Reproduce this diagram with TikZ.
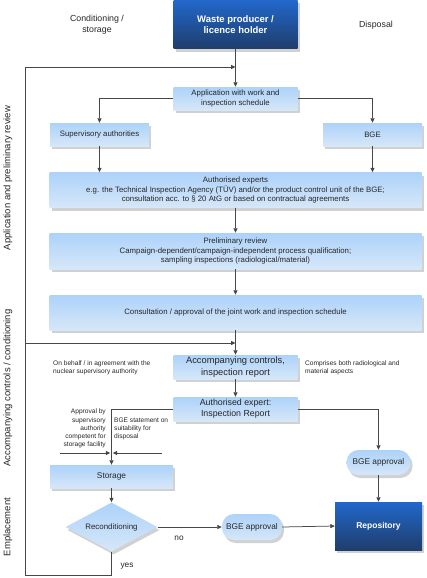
\documentclass[tikz,border=0pt]{standalone}
\usepackage{fontspec}
\setmainfont{Liberation Sans}
\usetikzlibrary{arrows.meta,shapes.geometric,shadows}
\definecolor{lnc}{HTML}{474747}
\definecolor{txt}{HTML}{262626}
\definecolor{lbtop}{HTML}{ADD2FA}
\definecolor{lbbot}{HTML}{D6E7F8}
\definecolor{dbtop}{HTML}{2268CB}
\definecolor{dbbot}{HTML}{1F3D6B}
\newdimen\fsdim
\newcommand{\fs}[1]{\fsdim=#1pt \fsdim=1.22\fsdim \fontsize{#1}{\the\fsdim}\selectfont}
\tikzset{
  shad/.style={drop shadow={shadow xshift=2pt,shadow yshift=-3pt,fill=black,opacity=0.18}},
  lbox/.style={shad,rectangle,inner sep=1pt,align=center,top color=lbtop,bottom color=lbbot,text=txt,font=\fs{7.8}},
  dbox/.style={shad,rectangle,inner sep=1pt,align=center,top color=dbtop,bottom color=dbbot,text=white,font=\bfseries\fs{9.5}},
  pill/.style={shad,rectangle,rounded corners=12pt,inner sep=1pt,align=center,top color=lbtop,bottom color=lbbot,text=txt,font=\fs{8.3}},
  conn/.style={draw=lnc,line width=0.75pt},
  arr/.style={conn,-{Triangle[length=4.5pt,width=4pt]}},
  note/.style={font=\fs{6.6},inner sep=0pt,align=left,text=txt},
  vlab/.style={rotate=90,font=\fs{9.5},inner sep=0pt,text=txt},
}
\begin{document}
\begin{tikzpicture}[x=1pt,y=-1pt]
\useasboundingbox (0,0) rectangle (426,578);
% header labels
\node[font=\fs{8.8},align=center,text=txt] (hcond) at (97,25) {Conditioning /\\storage};
\node[font=\fs{8.8},text=txt] (hdisp) at (376,25) {Disposal};
% vertical phase labels
\node[vlab] (v1) at (8,178) {Application and preliminary review};
\node[vlab] (v2) at (8,388) {Accompanying controls / conditioning};
\node[vlab] (v3) at (8,527) {Emplacement};
% main nodes
\node[dbox,minimum width=124pt,minimum height=49pt] (waste) at (235.5,24.5) {Waste producer /\\licence holder};
\node[lbox,minimum width=124pt,minimum height=23pt] (app) at (235.5,98.5) {Application with work and\\inspection schedule};
\node[lbox,minimum width=99pt,minimum height=23pt] (sup) at (99.5,134.5) {Supervisory authorities};
\node[lbox,minimum width=99pt,minimum height=23pt] (bge) at (372.5,134.5) {BGE};
\node[lbox,minimum width=372pt,minimum height=35pt] (exp) at (235.5,190) {Authorised experts\\e.g. the Technical Inspection Agency (TÜV) and/or the product control unit of the BGE;\\consultation acc. to § 20 AtG or based on contractual agreements};
\node[lbox,minimum width=372pt,minimum height=36pt] (pre) at (235.5,251) {Preliminary review\\Campaign-dependent/campaign-independent process qualification;\\sampling inspections (radiological/material)};
\node[lbox,minimum width=372pt,minimum height=35pt] (cons) at (235.5,312.5) {Consultation / approval of the joint work and inspection schedule};
\node[lbox,minimum width=124pt,minimum height=24pt,font=\fs{9.3}] (acc) at (235.5,367) {Accompanying controls,\\inspection report};
\node[lbox,minimum width=124pt,minimum height=24pt,font=\fs{8.8}] (ir) at (235.5,409) {Authorised expert:\\Inspection Report};
\node[lbox,minimum width=123pt,minimum height=23pt,font=\fs{8.3}] (sto) at (111.5,476.5) {Storage};
\node[diamond,shad,top color=lbtop,bottom color=lbbot,minimum width=92pt,minimum height=49pt,aspect=1.9,inner sep=0pt,text=txt,font=\fs{7.9}] (rec) at (111.5,527) {Reconditioning};
\node[pill,minimum width=60pt,minimum height=26pt] (bgl) at (252,527) {BGE approval};
\node[pill,minimum width=64pt,minimum height=25pt] (bgu) at (378.5,462.5) {BGE approval};
\node[dbox,minimum width=87pt,minimum height=48pt,font=\bfseries\fs{8.5}] (repo) at (378.5,526) {Repository};
% notes
\node[note,anchor=west] (n1) at (53,368) {On behalf / in agreement with the\\nuclear supervisory authority};
\node[note,anchor=west] (n2) at (305,368) {Comprises both radiological and\\material aspects};
\node[note,align=right,anchor=north east] (n3) at (106,409) {Approval by\\supervisory\\authority\\competent for\\storage facility};
\node[note,anchor=north west] (n4) at (114,418) {BGE statement on\\suitability for\\disposal};
\node[font=\fs{8.3},text=txt] (no) at (179,538) {no};
\node[font=\fs{8.3},text=txt] (yes) at (127,566) {yes};
% coordinates
\coordinate (j1) at (235.5,67);
\coordinate (j2) at (235.5,343);
\coordinate (bl) at (25,575);
\coordinate (lm) at (25,343);
\coordinate (a1s) at (60,453);
\coordinate (a1e) at (110.3,453);
\coordinate (a2s) at (162,453);
\coordinate (a2e) at (112.7,453);
% connectors
\draw[arr] (waste.south) -- (app.north);
\draw[arr] (app.west) -| (sup.north);
\draw[arr] (app.east) -| (bge.north);
\draw[arr] (sup.south) -- (sup.south |- exp.north);
\draw[arr] (bge.south) -- (bge.south |- exp.north);
\draw[arr] (exp.south) -- (pre.north);
\draw[arr] (pre.south) -- (cons.north);
\draw[arr] (cons.south) -- (acc.north);
\draw[arr] (acc.south) -- (ir.north);
\draw[arr] (ir.west) -| (sto.north);
\draw[arr] (ir.east) -| (bgu.north);
\draw[arr] (bgu.south) -- (repo.north);
\draw[arr] (sto.south) -- (rec.north);
\draw[arr] (rec.east) -- (bgl.west);
\draw[arr] (bgl.east) -- (repo.west);
\draw[arr] (rec.south) |- (bl) |- (j1);
\draw[arr] (lm) -- (j2);
\draw[arr] (a1s) -- (a1e);
\draw[arr] (a2s) -- (a2e);
\end{tikzpicture}
\end{document}
